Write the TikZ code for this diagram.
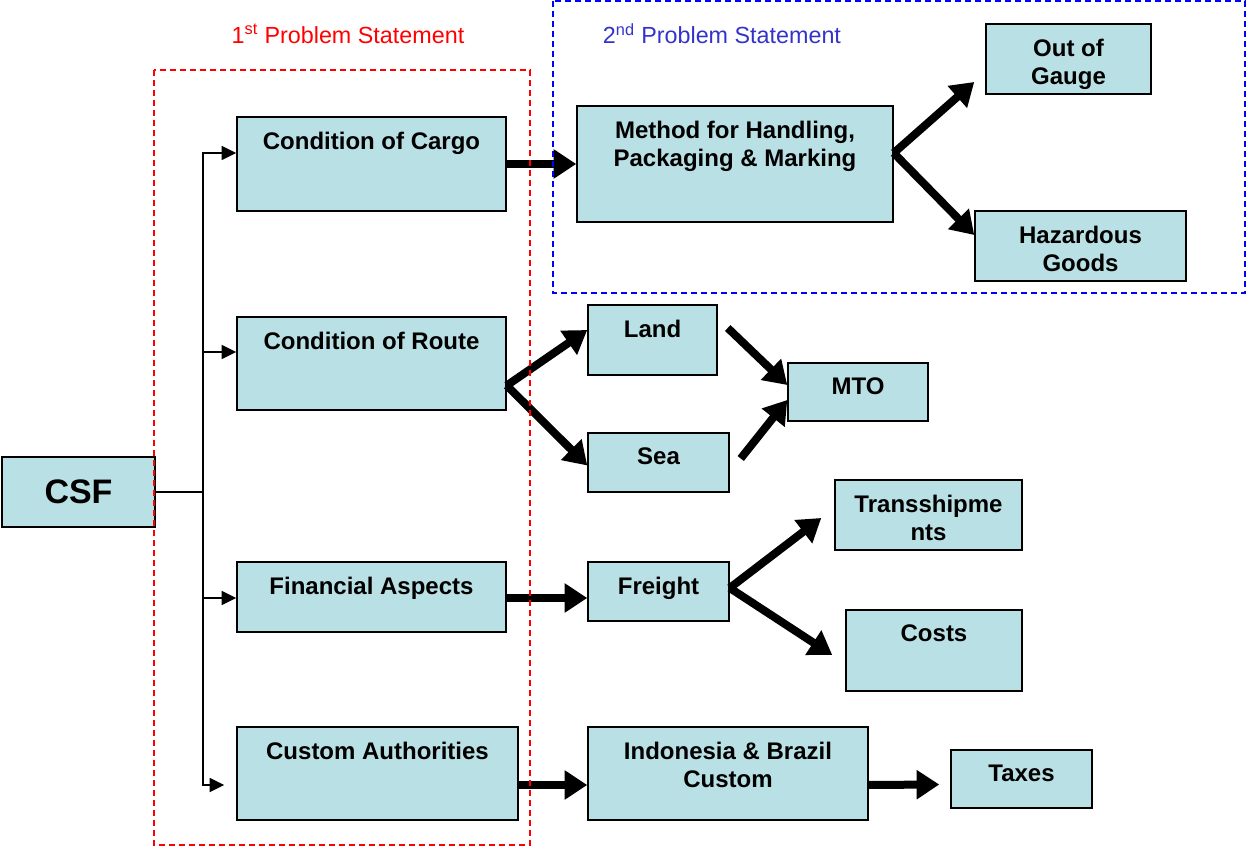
\documentclass[tikz,border=0pt]{standalone}
\usepackage{fontspec}
\setmainfont{Liberation Sans}
\usetikzlibrary{arrows.meta,calc}
\definecolor{boxblue}{RGB}{185,224,228}
\definecolor{psred}{RGB}{255,0,0}
\definecolor{psblue}{RGB}{51,51,204}

\begin{document}
\begin{tikzpicture}[x=0.75pt,y=0.75pt,yscale=-1,
  box/.style 2 args={draw=black, line width=1.1pt, fill=boxblue, inner sep=0pt,
    minimum width=#1*0.75pt, minimum height=#2*0.75pt},
  intext/.style={anchor=north, inner xsep=0pt, inner ysep=11.5pt, align=center,
    font=\fontsize{18}{21.5}\selectfont\bfseries},
  thinarrow/.style={line width=1.1pt, -{Triangle[length=11pt,width=10.5pt]}},
  bigarrow/.style={line width=6pt, -{Triangle[length=17pt,width=21pt]}},
  psframe/.style={line width=1.1pt, dash pattern=on 4.5pt off 3pt}]
\useasboundingbox (0,0) rectangle (1247,848);

%boxes of the first problem
\node[box={153}{70}, font=\fontsize{25.5}{30}\selectfont\bfseries] (csf) at (78.5,492) {CSF};
\node[box={269}{94}, label={[intext]north:Condition of Cargo}] (cargo) at (371.5,164) {};
\node[box={269}{93}, label={[intext]north:Condition of Route}] (route) at (371.5,363.5) {};
\node[box={269}{70}, label={[intext]north:Financial Aspects}] (fin) at (371.5,597) {};
\node[box={281}{93}, label={[intext]north:Custom Authorities}] (cust) at (377.5,773.5) {};

%boxes of the second problem
\node[box={316}{116}, label={[intext]north:{Method for Handling,\\Packaging \& Marking}}] (method) at (735,164) {};
\node[box={165}{70}, label={[intext]north:{Out of\\Gauge}}] (gauge) at (1068.5,59) {};
\node[box={211}{70}, label={[intext]north:{Hazardous\\Goods}}] (hazard) at (1080.5,246) {};

%route, money and custom
\node[box={129}{70}, label={[intext]north:Land}] (land) at (652.5,340) {};
\node[box={141}{59}, label={[intext]north:Sea}] (sea) at (658.5,462.5) {};
\node[box={140}{58}, label={[intext]north:MTO}] (mto) at (858,392) {};
\node[box={141}{59}, label={[intext]north:Freight}] (freight) at (658.5,591.5) {};
\node[box={187}{70}, label={[intext]north:{Transshipme\\nts}}] (trans) at (928.5,515) {};
\node[box={176}{81}, label={[intext]north:Costs}] (costs) at (934,650.5) {};
\node[box={280}{93}, label={[intext]north:{Indonesia \& Brazil\\Custom}}] (indo) at (728,773.5) {};
\node[box={141}{58}, label={[intext]north:Taxes}] (taxes) at (1021.5,779) {};

%thin tree from CSF
\coordinate (trunk) at (203,492);
\draw[line width=1.1pt] (csf.east) -- (trunk);
\draw[thinarrow] (trunk) |- ($(cargo.west)+(0,-11)$);
\draw[thinarrow] (trunk) |- ($(route.west)+(0,-11.5)$);
\draw[thinarrow] (trunk) |- ($(fin.west)+(0,1)$);
\draw[thinarrow] (trunk) |- ($(cust.west)+(-12,11.5)$);

%thick arrows
\draw[bigarrow] (cargo.east) -- (method.west);
\draw[bigarrow] ($(method.east)+(0,-11)$) -- ($(gauge.west)+(-11,23)$);
\draw[bigarrow] ($(method.east)+(0,-11)$) -- ($(hazard.west)+(0,-11)$);
\draw[bigarrow] ($(route.east)+(0,22)$) -- ($(land.west)+(0,-10)$);
\draw[bigarrow] ($(route.east)+(0,22)$) -- ($(sea.west)+(0,3)$);
\draw[bigarrow] ($(land.east)+(10,-12)$) -- ($(mto.west)+(0,-7)$);
\draw[bigarrow] ($(sea.east)+(11,-4)$) -- ($(mto.west)+(0,8)$);
\draw[bigarrow] ($(fin.east)+(0,1)$) -- ($(freight.west)+(0,6.5)$);
\draw[bigarrow] ($(freight.east)+(0,-3.5)$) -- ($(trans.west)+(-13,3)$);
\draw[bigarrow] ($(freight.east)+(0,-3.5)$) -- ($(costs.west)+(-13,4.5)$);
\draw[bigarrow] ($(cust.east)+(0,11.5)$) -- ($(indo.west)+(0,11.5)$);
\draw[bigarrow] ($(indo.east)+(0,11.5)$) -- ($(taxes.west)+(-11,5.5)$);

%problem statement frames
\draw[psframe, draw=psred] (154,70) rectangle (530,845);
\draw[psframe, draw=blue] (553,1) rectangle (1245,293);
\node[text=psred, font=\fontsize{17.5}{20}\selectfont] (ps1) at (348,34) {1\textsuperscript{st} Problem Statement};
\node[text=psblue, font=\fontsize{17.5}{20}\selectfont] (ps2) at (722,34) {2\textsuperscript{nd} Problem Statement};

\end{tikzpicture}
\end{document}
